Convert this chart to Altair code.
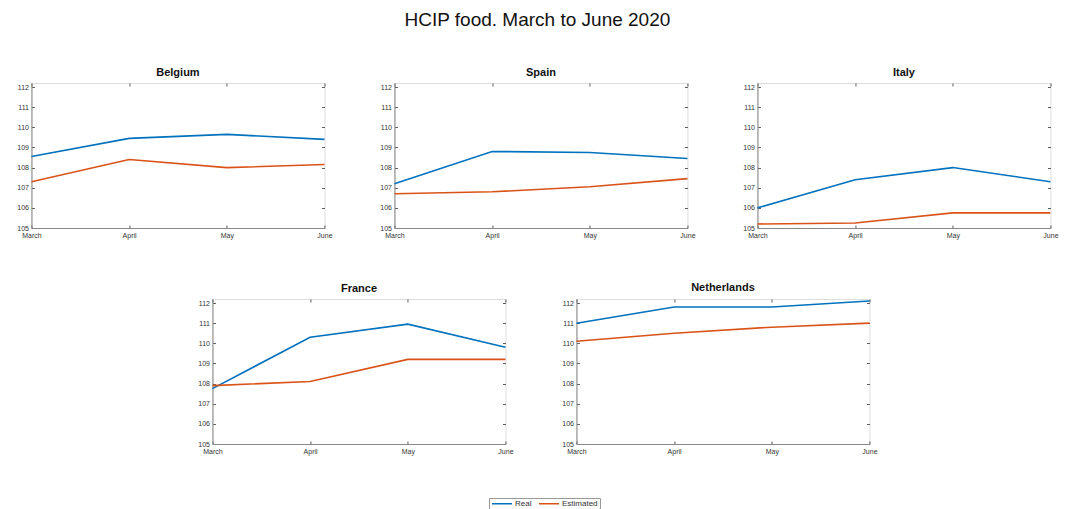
import altair as alt
import pandas as pd

months = ["March", "April", "May", "June"]
countries = ["Belgium", "Spain", "Italy", "France", "Netherlands"]

real_belgium = [108.55, 109.45, 109.65, 109.4]
est_belgium = [107.3, 108.4, 108.0, 108.15]
real_spain = [107.2, 108.8, 108.75, 108.45]
est_spain = [106.7, 106.8, 107.05, 107.45]
real_italy = [106.0, 107.4, 108.0, 107.3]
est_italy = [105.2, 105.25, 105.75, 105.75]
real_france = [107.75, 110.3, 110.95, 109.8]
est_france = [107.9, 108.1, 109.2, 109.2]
real_netherlands = [111.0, 111.8, 111.8, 112.1]
est_netherlands = [110.1, 110.5, 110.8, 111.0]

series_names = ["Real", "Estimated"]
series_colors = ["#0072BD", "#D95319"]
y_ticks = [105, 106, 107, 108, 109, 110, 111, 112]

real = {"Belgium": real_belgium, "Spain": real_spain, "Italy": real_italy,
        "France": real_france, "Netherlands": real_netherlands}
est = {"Belgium": est_belgium, "Spain": est_spain, "Italy": est_italy,
       "France": est_france, "Netherlands": est_netherlands}

rows = []
for c in countries:
    for m, r, e in zip(months, real[c], est[c]):
        rows.append({"country": c, "month": m, "series": "Real", "value": r})
        rows.append({"country": c, "month": m, "series": "Estimated", "value": e})
df = pd.DataFrame(rows)

FONT = "Liberation Sans"
TICK_DASH = [3, 2000]
x_scale = alt.Scale(type="point", padding=0)
y_scale = alt.Scale(domain=[105, 112.2], nice=False, zero=False)


def panel(c):
    base = alt.Chart(df).transform_filter(alt.datum.country == c)
    lines = base.mark_line(strokeWidth=1.6).encode(
        x=alt.X("month:O", sort=months, scale=x_scale,
                axis=alt.Axis(title=None, labelAngle=0, tickSize=0,
                              labelFontSize=7, labelPadding=3,
                              labelColor="#333", domainColor="#888",
                              grid=True, gridDash=TICK_DASH,
                              gridColor="#333", gridWidth=0.8)),
        y=alt.Y("value:Q", scale=y_scale,
                axis=alt.Axis(title=None, values=y_ticks, tickSize=0,
                              labelFontSize=7, labelPadding=3,
                              labelColor="#333", domainColor="#888",
                              grid=True, gridDash=TICK_DASH,
                              gridColor="#333", gridWidth=0.8)),
        color=alt.Color("series:N",
                        scale=alt.Scale(domain=series_names, range=series_colors),
                        legend=alt.Legend(title=None, orient="none",
                                          direction="horizontal",
                                          legendX=458, legendY=415,
                                          symbolType="stroke", symbolSize=400,
                                          symbolStrokeWidth=1.3, clipHeight=7,
                                          labelFontSize=8, labelColor="#333",
                                          labelOffset=2,
                                          strokeColor="#999", padding=2,
                                          columnPadding=6, symbolOffset=0)),
        detail="series:N",
    )
    frame = base.mark_line(opacity=0).encode(
        x=alt.X("month:O", sort=months, scale=x_scale,
                axis=alt.Axis(title=None, orient="top", labels=False,
                              ticks=False, domain=False, grid=True,
                              gridDash=TICK_DASH, gridColor="#333",
                              gridWidth=0.8)),
        y=alt.Y("value:Q", scale=y_scale,
                axis=alt.Axis(title=None, orient="right", values=y_ticks,
                              labels=False, ticks=False, domain=False,
                              grid=True, gridDash=TICK_DASH,
                              gridColor="#333", gridWidth=0.8)),
        detail="series:N",
    )
    return alt.layer(lines, frame).resolve_axis(
        x="independent", y="independent"
    ).properties(width=293, height=145,
                 title=alt.TitleParams(c, fontSize=11, fontWeight="bold",
                                       font=FONT, offset=5, color="#111"))


top = alt.hconcat(panel("Belgium"), panel("Spain"), panel("Italy"), spacing=70,
                  bounds="flush")
bottom = alt.hconcat(panel("France"), panel("Netherlands"), spacing=71,
                     bounds="flush")

chart = alt.vconcat(top, bottom, spacing=42, center=True).properties(
    title=alt.TitleParams("HCIP food. March to June 2020", fontSize=19,
                          fontWeight="normal", font=FONT, offset=37,
                          anchor="middle", color="#111"),
    padding={"left": 8, "top": 2, "right": 5, "bottom": 5},
).configure_view(stroke="#888", strokeWidth=1).configure(font=FONT)

chart.save("out.html", embed_options={"renderer": "svg", "actions": False})
